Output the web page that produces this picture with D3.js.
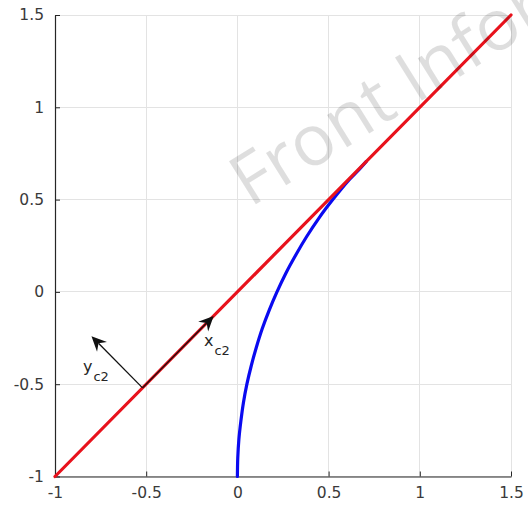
<!DOCTYPE html>
<html>
<head>
<meta charset="utf-8">
<script src="https://cdn.jsdelivr.net/npm/d3@7"></script>
<style>
  html, body { margin: 0; padding: 0; background: #fff; }
  svg { display: block; }
</style>
</head>
<body>
<svg id="chart" width="528" height="506"></svg>
<script>
// Axis ticks
const xTicks = [-1, -0.5, 0, 0.5, 1, 1.5];
const yTicks = [-1, -0.5, 0, 0.5, 1, 1.5];
const xTickLabels = ["-1", "-0.5", "0", "0.5", "1", "1.5"];
const yTickLabels = ["-1", "-0.5", "0", "0.5", "1", "1.5"];

// Straight path (red)
const lineX = [-1, 1.5];
const lineY = [-1, 1.5];

// Curved path (blue), from the vertical start up to where it meets the line
const curveX = [0, 0.002, 0.008, 0.019, 0.033, 0.052, 0.076, 0.104, 0.136, 0.174, 0.217,
                0.265, 0.320, 0.380, 0.447, 0.523, 0.606, 0.660, 0.707];
const curveY = [-1, -0.9, -0.8, -0.7, -0.6, -0.5, -0.4, -0.3, -0.2, -0.1, 0,
                0.1, 0.2, 0.3, 0.4, 0.5, 0.6, 0.655, 0.707];

// Local frame arrows
const frameOrigin = [-0.52, -0.52];
const arrowNames = ["x", "y"];
const arrowTipX = [-0.13, -0.80];
const arrowTipY = [-0.13, -0.24];

const svg = d3.select("#chart");
const x = d3.scaleLinear().domain([-1, 1.5]).range([55, 511]);
const y = d3.scaleLinear().domain([-1, 1.5]).range([476.5, 15]);

const font = "'DejaVu Sans', sans-serif";
const axisColor = "#262626";

// Grid
const grid = svg.append("g");
grid.selectAll(".gx").data(xTicks).join("line")
  .attr("x1", d => x(d)).attr("x2", d => x(d))
  .attr("y1", y(-1)).attr("y2", y(1.5))
  .attr("stroke", "#e3e3e3").attr("stroke-width", 1).attr("shape-rendering", "crispEdges");
grid.selectAll(".gy").data(yTicks).join("line")
  .attr("y1", d => y(d)).attr("y2", d => y(d))
  .attr("x1", x(-1)).attr("x2", x(1.5))
  .attr("stroke", "#e3e3e3").attr("stroke-width", 1).attr("shape-rendering", "crispEdges");

// Axes (left and bottom only, ticks pointing inward)
const xAxis = d3.axisBottom(x).tickValues(xTicks)
  .tickFormat((d, i) => xTickLabels[i]).tickSizeInner(-5).tickSizeOuter(0).tickPadding(12);
const yAxis = d3.axisLeft(y).tickValues(yTicks)
  .tickFormat((d, i) => yTickLabels[i]).tickSizeInner(-5).tickSizeOuter(0).tickPadding(11);

const gx = svg.append("g").attr("transform", `translate(0,${y(-1)})`).call(xAxis);
const gy = svg.append("g").attr("transform", `translate(${x(-1)},0)`).call(yAxis);
[gx, gy].forEach(g => {
  g.select(".domain").attr("stroke", axisColor).attr("stroke-width", 1.2);
  g.selectAll(".tick line").attr("stroke", axisColor).attr("stroke-width", 1);
  g.selectAll(".tick text").attr("fill", "#3a3a3a")
    .attr("font-family", font).attr("font-size", 15.5);
});
gx.selectAll(".tick text").attr("dy", "0.62em");

// Curve and line
const lineGen = d3.line().x(d => x(d[0])).y(d => y(d[1]));
svg.append("path")
  .datum(curveX.map((v, i) => [v, curveY[i]]))
  .attr("d", lineGen.curve(d3.curveCatmullRom))
  .attr("fill", "none").attr("stroke", "#0a0af0").attr("stroke-width", 3.2)
  .attr("stroke-linecap", "round");
svg.append("path")
  .datum(lineX.map((v, i) => [v, lineY[i]]))
  .attr("d", d3.line().x(d => x(d[0])).y(d => y(d[1])))
  .attr("fill", "none").attr("stroke", "#e8121c").attr("stroke-width", 3.2)
  .attr("stroke-linecap", "round");

// Frame arrows with notched heads
const ox = x(frameOrigin[0]), oy = y(frameOrigin[1]);
arrowNames.forEach((n, i) => {
  const tx = x(arrowTipX[i]), ty = y(arrowTipY[i]);
  const dx = tx - ox, dy = ty - oy, len = Math.hypot(dx, dy);
  const ux = dx / len, uy = dy / len, px = -uy, py = ux;
  const hl = 15, hw = 7, notch = 10;
  svg.append("line")
    .attr("x1", ox).attr("y1", oy)
    .attr("x2", tx - ux * notch).attr("y2", ty - uy * notch)
    .attr("stroke", "#111").attr("stroke-width", 1.3);
  const pts = [
    [tx, ty],
    [tx - ux * hl + px * hw, ty - uy * hl + py * hw],
    [tx - ux * notch, ty - uy * notch],
    [tx - ux * hl - px * hw, ty - uy * hl - py * hw]
  ];
  svg.append("path").attr("d", "M" + pts.map(p => p.join(",")).join("L") + "Z")
    .attr("fill", "#111");
});

// Arrow labels
function subLabel(px, py, main, sub) {
  const t = svg.append("text").attr("x", px).attr("y", py)
    .attr("font-family", font).attr("font-size", 16).attr("fill", "#262626");
  t.append("tspan").text(main);
  t.append("tspan").attr("dx", 1).attr("dy", 9).attr("font-size", 13).text(sub);
}
subLabel(204, 346, "x", "c2");
subLabel(83, 372, "y", "c2");

// Watermark
svg.append("text")
  .attr("transform", "translate(250,208) rotate(-32)")
  .attr("font-family", "'Open Sans', sans-serif").attr("font-size", 71)
  .attr("fill", "#000").attr("fill-opacity", 0.13)
  .text("Front Information");
</script>
</body>
</html>
